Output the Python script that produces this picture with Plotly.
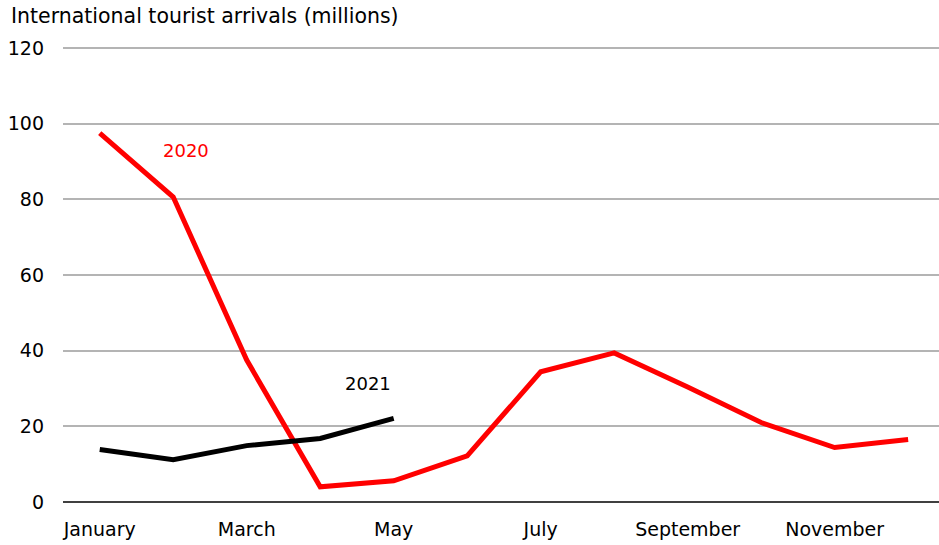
import plotly.graph_objects as go

months = ["January", "February", "March", "April", "May", "June",
          "July", "August", "September", "October", "November", "December"]
arrivals_2020 = [97.5, 80.6, 37.5, 4.0, 5.6, 12.2, 34.4, 39.4, 30.4, 21.0, 14.4, 16.5]
arrivals_2021 = [13.9, 11.2, 14.9, 16.8, 22.1]
labelled_months = ["January", "March", "May", "July", "September", "November"]
y_ticks = [0, 20, 40, 60, 80, 100, 120]

FONT = "DejaVu Sans"
idx = list(range(len(months)))

fig = go.Figure()
fig.add_trace(go.Scatter(
    x=idx, y=arrivals_2020, mode="lines", name="2020",
    line=dict(color="#ff0000", width=5), hoverinfo="skip"))
fig.add_trace(go.Scatter(
    x=idx[:len(arrivals_2021)], y=arrivals_2021, mode="lines", name="2021",
    line=dict(color="#000000", width=5), hoverinfo="skip"))

fig.add_annotation(x=1.18, y=93, text="2020", showarrow=False,
                   font=dict(family=FONT, size=18, color="#ff0000"))
fig.add_annotation(x=3.65, y=31.4, text="2021", showarrow=False,
                   font=dict(family=FONT, size=18, color="#000000"))
fig.add_annotation(xref="paper", yref="paper", x=-0.0615, y=1.0, yshift=30,
                   xanchor="left", yanchor="middle", showarrow=False,
                   text="International tourist arrivals (millions)",
                   font=dict(family=FONT, size=20.5, color="#000000"))

fig.update_layout(
    width=939, height=545,
    margin=dict(l=63, r=0, t=46, b=43),
    paper_bgcolor="white", plot_bgcolor="white",
    showlegend=False,
    font=dict(family=FONT, size=19, color="#000000"),
    xaxis=dict(
        range=[-0.5, 11.42],
        tickvals=[months.index(m) for m in labelled_months],
        ticktext=labelled_months,
        showgrid=False, zeroline=False, showline=False,
        ticks="", ticklabelstandoff=14,
    ),
    yaxis=dict(
        range=[0, 120.5], tickvals=y_ticks,
        showgrid=True, gridcolor="#b4b4b4", gridwidth=2,
        zeroline=True, zerolinecolor="#404040", zerolinewidth=1.5,
        showline=False, ticks="", ticklabelstandoff=18,
    ),
)

fig.write_html("out.html")
